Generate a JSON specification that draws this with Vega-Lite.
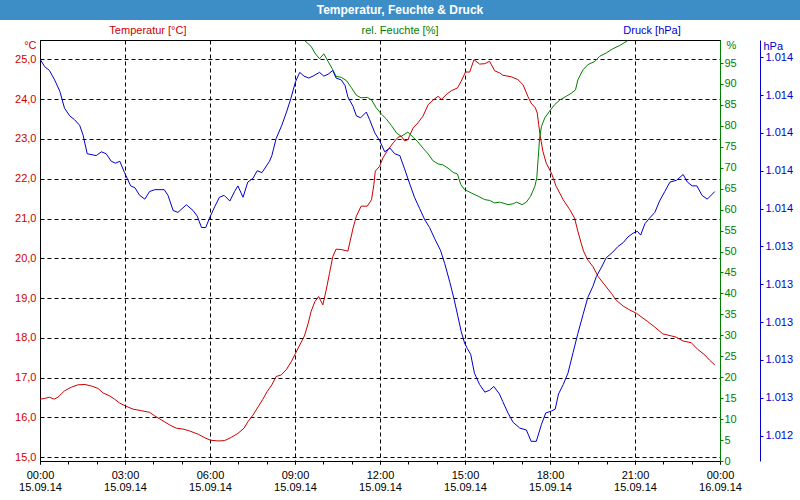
{
  "$schema": "https://vega.github.io/schema/vega-lite/v6.json",
  "padding": 0,
  "background": "white",
  "config": {"font": "Liberation Sans", "view": {"stroke": null}},
  "datasets": {
    "temp": [
      {"t":"2014-09-15T00:00","v":16.46},{"t":"2014-09-15T00:10","v":16.48},{"t":"2014-09-15T00:20","v":16.51},{"t":"2014-09-15T00:30","v":16.46},{"t":"2014-09-15T00:38","v":16.51},{"t":"2014-09-15T00:52","v":16.67},{"t":"2014-09-15T01:06","v":16.76},{"t":"2014-09-15T01:20","v":16.82},{"t":"2014-09-15T01:35","v":16.83},{"t":"2014-09-15T01:49","v":16.79},{"t":"2014-09-15T02:03","v":16.73},{"t":"2014-09-15T02:13","v":16.62},{"t":"2014-09-15T02:28","v":16.54},{"t":"2014-09-15T02:38","v":16.46},{"t":"2014-09-15T02:49","v":16.36},{"t":"2014-09-15T03:01","v":16.29},{"t":"2014-09-15T03:17","v":16.21},{"t":"2014-09-15T03:35","v":16.17},{"t":"2014-09-15T03:52","v":16.13},{"t":"2014-09-15T04:03","v":16.04},{"t":"2014-09-15T04:17","v":15.94},{"t":"2014-09-15T04:35","v":15.81},{"t":"2014-09-15T04:49","v":15.73},{"t":"2014-09-15T05:03","v":15.71},{"t":"2014-09-15T05:17","v":15.66},{"t":"2014-09-15T05:35","v":15.58},{"t":"2014-09-15T05:49","v":15.49},{"t":"2014-09-15T06:01","v":15.43},{"t":"2014-09-15T06:17","v":15.41},{"t":"2014-09-15T06:31","v":15.42},{"t":"2014-09-15T06:45","v":15.50},{"t":"2014-09-15T06:59","v":15.60},{"t":"2014-09-15T07:12","v":15.73},{"t":"2014-09-15T07:20","v":15.89},{"t":"2014-09-15T07:31","v":16.06},{"t":"2014-09-15T07:42","v":16.27},{"t":"2014-09-15T07:52","v":16.46},{"t":"2014-09-15T08:01","v":16.65},{"t":"2014-09-15T08:11","v":16.82},{"t":"2014-09-15T08:20","v":17.03},{"t":"2014-09-15T08:31","v":17.07},{"t":"2014-09-15T08:42","v":17.21},{"t":"2014-09-15T08:52","v":17.40},{"t":"2014-09-15T09:01","v":17.61},{"t":"2014-09-15T09:10","v":17.82},{"t":"2014-09-15T09:20","v":18.05},{"t":"2014-09-15T09:28","v":18.37},{"t":"2014-09-15T09:34","v":18.66},{"t":"2014-09-15T09:42","v":18.91},{"t":"2014-09-15T09:50","v":19.04},{"t":"2014-09-15T09:59","v":18.83},{"t":"2014-09-15T10:06","v":19.20},{"t":"2014-09-15T10:13","v":19.62},{"t":"2014-09-15T10:20","v":20.04},{"t":"2014-09-15T10:27","v":20.23},{"t":"2014-09-15T10:38","v":20.22},{"t":"2014-09-15T10:52","v":20.18},{"t":"2014-09-15T11:03","v":20.76},{"t":"2014-09-15T11:10","v":21.06},{"t":"2014-09-15T11:20","v":21.31},{"t":"2014-09-15T11:33","v":21.31},{"t":"2014-09-15T11:42","v":21.47},{"t":"2014-09-15T11:47","v":21.85},{"t":"2014-09-15T11:50","v":22.19},{"t":"2014-09-15T11:59","v":22.31},{"t":"2014-09-15T12:06","v":22.52},{"t":"2014-09-15T12:17","v":22.73},{"t":"2014-09-15T12:28","v":22.90},{"t":"2014-09-15T12:38","v":23.04},{"t":"2014-09-15T12:45","v":23.07},{"t":"2014-09-15T12:52","v":22.95},{"t":"2014-09-15T12:59","v":22.98},{"t":"2014-09-15T13:10","v":23.27},{"t":"2014-09-15T13:20","v":23.40},{"t":"2014-09-15T13:31","v":23.57},{"t":"2014-09-15T13:42","v":23.86},{"t":"2014-09-15T13:54","v":23.99},{"t":"2014-09-15T14:03","v":24.07},{"t":"2014-09-15T14:10","v":23.99},{"t":"2014-09-15T14:20","v":24.11},{"t":"2014-09-15T14:31","v":24.21},{"t":"2014-09-15T14:44","v":24.28},{"t":"2014-09-15T14:52","v":24.45},{"t":"2014-09-15T15:01","v":24.68},{"t":"2014-09-15T15:10","v":24.68},{"t":"2014-09-15T15:19","v":24.99},{"t":"2014-09-15T15:31","v":24.88},{"t":"2014-09-15T15:42","v":24.89},{"t":"2014-09-15T15:52","v":24.95},{"t":"2014-09-15T16:03","v":24.71},{"t":"2014-09-15T16:13","v":24.66},{"t":"2014-09-15T16:20","v":24.60},{"t":"2014-09-15T16:38","v":24.56},{"t":"2014-09-15T16:52","v":24.49},{"t":"2014-09-15T17:03","v":24.36},{"t":"2014-09-15T17:13","v":24.07},{"t":"2014-09-15T17:20","v":23.90},{"t":"2014-09-15T17:29","v":23.78},{"t":"2014-09-15T17:33","v":23.65},{"t":"2014-09-15T17:36","v":23.36},{"t":"2014-09-15T17:40","v":23.02},{"t":"2014-09-15T17:45","v":22.69},{"t":"2014-09-15T17:52","v":22.39},{"t":"2014-09-15T18:03","v":22.14},{"t":"2014-09-15T18:13","v":21.81},{"t":"2014-09-15T18:28","v":21.47},{"t":"2014-09-15T18:42","v":21.22},{"t":"2014-09-15T18:52","v":21.01},{"t":"2014-09-15T18:59","v":20.68},{"t":"2014-09-15T19:06","v":20.38},{"t":"2014-09-15T19:11","v":20.18},{"t":"2014-09-15T19:20","v":19.96},{"t":"2014-09-15T19:31","v":19.79},{"t":"2014-09-15T19:42","v":19.54},{"t":"2014-09-15T19:56","v":19.33},{"t":"2014-09-15T20:10","v":19.12},{"t":"2014-09-15T20:20","v":18.95},{"t":"2014-09-15T20:35","v":18.80},{"t":"2014-09-15T20:49","v":18.70},{"t":"2014-09-15T21:03","v":18.62},{"t":"2014-09-15T21:13","v":18.53},{"t":"2014-09-15T21:27","v":18.41},{"t":"2014-09-15T21:42","v":18.27},{"t":"2014-09-15T21:59","v":18.10},{"t":"2014-09-15T22:17","v":18.05},{"t":"2014-09-15T22:27","v":18.02},{"t":"2014-09-15T22:42","v":17.92},{"t":"2014-09-15T22:59","v":17.88},{"t":"2014-09-15T23:13","v":17.71},{"t":"2014-09-15T23:28","v":17.57},{"t":"2014-09-15T23:38","v":17.44},{"t":"2014-09-15T23:49","v":17.32}
    ],
    "hum": [
      {"t":"2014-09-15T09:21","v":100.3},{"t":"2014-09-15T09:34","v":99.0},{"t":"2014-09-15T09:42","v":97.4},{"t":"2014-09-15T09:52","v":96.0},{"t":"2014-09-15T10:01","v":97.2},{"t":"2014-09-15T10:10","v":95.4},{"t":"2014-09-15T10:20","v":93.4},{"t":"2014-09-15T10:27","v":91.8},{"t":"2014-09-15T10:38","v":91.6},{"t":"2014-09-15T10:49","v":90.8},{"t":"2014-09-15T10:59","v":89.2},{"t":"2014-09-15T11:10","v":87.3},{"t":"2014-09-15T11:20","v":86.7},{"t":"2014-09-15T11:33","v":86.8},{"t":"2014-09-15T11:42","v":86.2},{"t":"2014-09-15T11:52","v":84.3},{"t":"2014-09-15T12:03","v":82.8},{"t":"2014-09-15T12:13","v":81.7},{"t":"2014-09-15T12:24","v":80.1},{"t":"2014-09-15T12:35","v":78.3},{"t":"2014-09-15T12:45","v":77.5},{"t":"2014-09-15T12:59","v":78.5},{"t":"2014-09-15T13:10","v":77.3},{"t":"2014-09-15T13:20","v":76.2},{"t":"2014-09-15T13:31","v":74.7},{"t":"2014-09-15T13:42","v":73.3},{"t":"2014-09-15T13:52","v":71.7},{"t":"2014-09-15T14:03","v":70.9},{"t":"2014-09-15T14:13","v":70.7},{"t":"2014-09-15T14:24","v":69.9},{"t":"2014-09-15T14:35","v":68.9},{"t":"2014-09-15T14:44","v":68.5},{"t":"2014-09-15T14:51","v":66.0},{"t":"2014-09-15T14:59","v":64.8},{"t":"2014-09-15T15:13","v":64.0},{"t":"2014-09-15T15:28","v":63.2},{"t":"2014-09-15T15:42","v":62.4},{"t":"2014-09-15T15:52","v":62.2},{"t":"2014-09-15T16:03","v":61.6},{"t":"2014-09-15T16:13","v":61.8},{"t":"2014-09-15T16:20","v":61.6},{"t":"2014-09-15T16:31","v":61.2},{"t":"2014-09-15T16:42","v":61.4},{"t":"2014-09-15T16:49","v":61.8},{"t":"2014-09-15T17:01","v":61.2},{"t":"2014-09-15T17:10","v":61.8},{"t":"2014-09-15T17:19","v":63.2},{"t":"2014-09-15T17:28","v":65.6},{"t":"2014-09-15T17:32","v":67.6},{"t":"2014-09-15T17:35","v":72.3},{"t":"2014-09-15T17:38","v":77.1},{"t":"2014-09-15T17:42","v":79.9},{"t":"2014-09-15T17:49","v":81.9},{"t":"2014-09-15T17:59","v":83.5},{"t":"2014-09-15T18:10","v":85.1},{"t":"2014-09-15T18:21","v":86.2},{"t":"2014-09-15T18:35","v":87.1},{"t":"2014-09-15T18:45","v":87.8},{"t":"2014-09-15T18:54","v":88.6},{"t":"2014-09-15T18:59","v":91.0},{"t":"2014-09-15T19:10","v":93.4},{"t":"2014-09-15T19:20","v":94.6},{"t":"2014-09-15T19:35","v":95.4},{"t":"2014-09-15T19:45","v":96.6},{"t":"2014-09-15T19:59","v":97.4},{"t":"2014-09-15T20:13","v":98.4},{"t":"2014-09-15T20:28","v":99.2},{"t":"2014-09-15T20:44","v":100.3}
    ],
    "press": [
      {"t":"2014-09-15T00:00","v":1014.39},{"t":"2014-09-15T00:10","v":1014.35},{"t":"2014-09-15T00:20","v":1014.33},{"t":"2014-09-15T00:31","v":1014.28},{"t":"2014-09-15T00:42","v":1014.22},{"t":"2014-09-15T00:52","v":1014.13},{"t":"2014-09-15T01:03","v":1014.09},{"t":"2014-09-15T01:13","v":1014.07},{"t":"2014-09-15T01:24","v":1014.04},{"t":"2014-09-15T01:31","v":1013.99},{"t":"2014-09-15T01:40","v":1013.89},{"t":"2014-09-15T01:59","v":1013.88},{"t":"2014-09-15T02:10","v":1013.90},{"t":"2014-09-15T02:20","v":1013.89},{"t":"2014-09-15T02:31","v":1013.85},{"t":"2014-09-15T02:40","v":1013.84},{"t":"2014-09-15T02:49","v":1013.85},{"t":"2014-09-15T02:59","v":1013.79},{"t":"2014-09-15T03:12","v":1013.72},{"t":"2014-09-15T03:21","v":1013.71},{"t":"2014-09-15T03:31","v":1013.67},{"t":"2014-09-15T03:42","v":1013.65},{"t":"2014-09-15T03:52","v":1013.69},{"t":"2014-09-15T04:03","v":1013.70},{"t":"2014-09-15T04:10","v":1013.70},{"t":"2014-09-15T04:23","v":1013.70},{"t":"2014-09-15T04:31","v":1013.67},{"t":"2014-09-15T04:42","v":1013.59},{"t":"2014-09-15T04:52","v":1013.58},{"t":"2014-09-15T05:10","v":1013.62},{"t":"2014-09-15T05:24","v":1013.59},{"t":"2014-09-15T05:33","v":1013.56},{"t":"2014-09-15T05:42","v":1013.50},{"t":"2014-09-15T05:51","v":1013.50},{"t":"2014-09-15T05:59","v":1013.55},{"t":"2014-09-15T06:10","v":1013.61},{"t":"2014-09-15T06:20","v":1013.66},{"t":"2014-09-15T06:30","v":1013.67},{"t":"2014-09-15T06:42","v":1013.64},{"t":"2014-09-15T06:52","v":1013.69},{"t":"2014-09-15T06:59","v":1013.72},{"t":"2014-09-15T07:10","v":1013.66},{"t":"2014-09-15T07:20","v":1013.74},{"t":"2014-09-15T07:31","v":1013.76},{"t":"2014-09-15T07:40","v":1013.80},{"t":"2014-09-15T07:50","v":1013.79},{"t":"2014-09-15T08:06","v":1013.85},{"t":"2014-09-15T08:11","v":1013.88},{"t":"2014-09-15T08:20","v":1013.97},{"t":"2014-09-15T08:32","v":1014.04},{"t":"2014-09-15T08:42","v":1014.11},{"t":"2014-09-15T08:51","v":1014.18},{"t":"2014-09-15T09:01","v":1014.27},{"t":"2014-09-15T09:10","v":1014.32},{"t":"2014-09-15T09:19","v":1014.30},{"t":"2014-09-15T09:29","v":1014.29},{"t":"2014-09-15T09:38","v":1014.30},{"t":"2014-09-15T09:52","v":1014.32},{"t":"2014-09-15T10:01","v":1014.30},{"t":"2014-09-15T10:10","v":1014.31},{"t":"2014-09-15T10:20","v":1014.33},{"t":"2014-09-15T10:27","v":1014.29},{"t":"2014-09-15T10:38","v":1014.28},{"t":"2014-09-15T10:46","v":1014.25},{"t":"2014-09-15T10:52","v":1014.19},{"t":"2014-09-15T11:03","v":1014.14},{"t":"2014-09-15T11:10","v":1014.09},{"t":"2014-09-15T11:19","v":1014.08},{"t":"2014-09-15T11:31","v":1014.11},{"t":"2014-09-15T11:38","v":1014.07},{"t":"2014-09-15T11:49","v":1014.00},{"t":"2014-09-15T11:59","v":1013.96},{"t":"2014-09-15T12:10","v":1013.90},{"t":"2014-09-15T12:21","v":1013.92},{"t":"2014-09-15T12:31","v":1013.89},{"t":"2014-09-15T12:42","v":1013.88},{"t":"2014-09-15T12:52","v":1013.81},{"t":"2014-09-15T13:03","v":1013.73},{"t":"2014-09-15T13:13","v":1013.66},{"t":"2014-09-15T13:24","v":1013.60},{"t":"2014-09-15T13:35","v":1013.54},{"t":"2014-09-15T13:45","v":1013.50},{"t":"2014-09-15T13:56","v":1013.44},{"t":"2014-09-15T14:08","v":1013.38},{"t":"2014-09-15T14:17","v":1013.31},{"t":"2014-09-15T14:28","v":1013.21},{"t":"2014-09-15T14:37","v":1013.12},{"t":"2014-09-15T14:45","v":1013.03},{"t":"2014-09-15T14:52","v":1012.95},{"t":"2014-09-15T14:59","v":1012.89},{"t":"2014-09-15T15:05","v":1012.86},{"t":"2014-09-15T15:12","v":1012.83},{"t":"2014-09-15T15:20","v":1012.73},{"t":"2014-09-15T15:31","v":1012.67},{"t":"2014-09-15T15:42","v":1012.63},{"t":"2014-09-15T15:52","v":1012.64},{"t":"2014-09-15T16:01","v":1012.66},{"t":"2014-09-15T16:13","v":1012.62},{"t":"2014-09-15T16:20","v":1012.58},{"t":"2014-09-15T16:31","v":1012.52},{"t":"2014-09-15T16:42","v":1012.47},{"t":"2014-09-15T16:56","v":1012.44},{"t":"2014-09-15T17:10","v":1012.43},{"t":"2014-09-15T17:20","v":1012.37},{"t":"2014-09-15T17:31","v":1012.37},{"t":"2014-09-15T17:42","v":1012.46},{"t":"2014-09-15T17:51","v":1012.52},{"t":"2014-09-15T18:03","v":1012.53},{"t":"2014-09-15T18:11","v":1012.54},{"t":"2014-09-15T18:18","v":1012.62},{"t":"2014-09-15T18:28","v":1012.67},{"t":"2014-09-15T18:38","v":1012.73},{"t":"2014-09-15T18:49","v":1012.84},{"t":"2014-09-15T18:59","v":1012.94},{"t":"2014-09-15T19:10","v":1013.04},{"t":"2014-09-15T19:20","v":1013.13},{"t":"2014-09-15T19:31","v":1013.19},{"t":"2014-09-15T19:38","v":1013.24},{"t":"2014-09-15T19:49","v":1013.29},{"t":"2014-09-15T19:59","v":1013.34},{"t":"2014-09-15T20:13","v":1013.37},{"t":"2014-09-15T20:24","v":1013.40},{"t":"2014-09-15T20:35","v":1013.42},{"t":"2014-09-15T20:45","v":1013.45},{"t":"2014-09-15T20:56","v":1013.47},{"t":"2014-09-15T21:05","v":1013.48},{"t":"2014-09-15T21:12","v":1013.46},{"t":"2014-09-15T21:21","v":1013.52},{"t":"2014-09-15T21:31","v":1013.55},{"t":"2014-09-15T21:42","v":1013.58},{"t":"2014-09-15T21:52","v":1013.64},{"t":"2014-09-15T22:03","v":1013.69},{"t":"2014-09-15T22:14","v":1013.74},{"t":"2014-09-15T22:28","v":1013.75},{"t":"2014-09-15T22:42","v":1013.78},{"t":"2014-09-15T22:51","v":1013.74},{"t":"2014-09-15T23:01","v":1013.72},{"t":"2014-09-15T23:11","v":1013.72},{"t":"2014-09-15T23:22","v":1013.67},{"t":"2014-09-15T23:33","v":1013.65},{"t":"2014-09-15T23:49","v":1013.69}
    ],
    "series": [{"s": "Temperatur [°C]"}, {"s": "rel. Feuchte [%]"}, {"s": "Druck [hPa]"}],
    "headline": [{"label": "Temperatur, Feuchte & Druck"}]
  },
  "spacing": 20,
  "bounds": "flush",
  "vconcat": [
    {
      "width": 800,
      "height": 20,
      "view": {"fill": "#3d8ec7", "stroke": null},
      "data": {"name": "headline"},
      "mark": {"type": "text", "color": "white", "fontWeight": "bold", "fontSize": 12},
      "encoding": {"text": {"field": "label"}}
    },
    {
      "spacing": 39,
      "bounds": "flush",
      "hconcat": [
        {
          "width": 1,
          "height": 421,
          "view": {"stroke": null},
          "data": {"values": [{"a": 1}]},
          "mark": {"type": "point", "opacity": 0, "size": 0, "strokeWidth": 0, "filled": true},
          "encoding": {}
        },
        {
          "width": 680,
          "height": 421,
          "view": {"stroke": "black", "strokeWidth": 1, "fill": "white"},
          "resolve": {"scale": {"x": "independent", "y": "independent", "color": "independent"}},
          "layer": [
            {
              "data": {"name": "temp"},
              "mark": {"type": "line", "color": "#cc0000", "strokeWidth": 1, "clip": true},
              "encoding": {
                "x": {
                  "field": "t", "type": "temporal",
                  "scale": {"domain": [{"year": 2014, "month": 9, "date": 15, "hours": 0}, {"year": 2014, "month": 9, "date": 16, "hours": 0}], "nice": false},
                  "axis": {
                    "orient": "bottom",
                    "tickCount": 8,
                    "grid": true,
                    "gridColor": "black",
                    "gridDash": [4, 3],
                    "domainColor": "black",
                    "tickColor": "black",
                    "tickSize": 3,
                    "format": "%H:%M",
                    "formatType": "time",
                    "labelColor": "black",
                    "labelFontSize": 11,
                    "labelPadding": 5,
                    "labelOverlap": false,
                    "labelFlush": false,
                    "labelAngle": 0,
                    "title": null
                  }
                },
                "y": {
                  "field": "v", "type": "quantitative",
                  "scale": {"domain": [14.907, 25.485], "nice": false, "zero": false},
                  "axis": {
                    "orient": "left",
                    "values": [15, 16, 17, 18, 19, 20, 21, 22, 23, 24, 25],
                    "grid": true,
                    "gridColor": "black",
                    "gridDash": [4, 3],
                    "domainColor": "black",
                    "ticks": false,
                    "labelExpr": "replace(format(datum.value, '.1f'), '.', ',')",
                    "labelColor": "#cc0000",
                    "labelFontSize": 11,
                    "labelPadding": 4,
                    "title": "°C",
                    "titleAngle": 0,
                    "titleX": -4,
                    "titleY": 5,
                    "titleAlign": "right",
                    "titleBaseline": "middle",
                    "titleColor": "#cc0000",
                    "titleFontSize": 11,
                    "titleFontWeight": "normal"
                  }
                }
              }
            },
            {
              "data": {"name": "hum"},
              "mark": {"type": "line", "color": "#008000", "strokeWidth": 1, "clip": true},
              "encoding": {
                "x": {
                  "field": "t", "type": "temporal",
                  "scale": {"domain": [{"year": 2014, "month": 9, "date": 15, "hours": 0}, {"year": 2014, "month": 9, "date": 16, "hours": 0}], "nice": false},
                  "axis": {
                    "orient": "bottom",
                    "tickCount": 24,
                    "grid": false,
                    "domain": false,
                    "labels": false,
                    "tickColor": "black",
                    "tickSize": 3,
                    "title": null
                  }
                },
                "y": {
                  "field": "v", "type": "quantitative",
                  "scale": {"domain": [0, 100.5], "nice": false, "zero": false},
                  "axis": {
                    "orient": "right",
                    "values": [0, 5, 10, 15, 20, 25, 30, 35, 40, 45, 50, 55, 60, 65, 70, 75, 80, 85, 90, 95],
                    "grid": false,
                    "domainColor": "#008000",
                    "tickColor": "#008000",
                    "tickSize": 3,
                    "labelColor": "#008000",
                    "labelFontSize": 11,
                    "labelPadding": 1,
                    "title": "%",
                    "titleAngle": 0,
                    "titleX": 6,
                    "titleY": 5,
                    "titleAlign": "left",
                    "titleBaseline": "middle",
                    "titleColor": "#008000",
                    "titleFontSize": 11,
                    "titleFontWeight": "normal"
                  }
                }
              }
            },
            {
              "data": {"name": "press"},
              "mark": {"type": "line", "color": "#0000cc", "strokeWidth": 1, "clip": true},
              "encoding": {
                "x": {
                  "field": "t", "type": "temporal",
                  "scale": {"domain": [{"year": 2014, "month": 9, "date": 15, "hours": 0}, {"year": 2014, "month": 9, "date": 16, "hours": 0}], "nice": false},
                  "axis": {
                    "orient": "bottom",
                    "tickCount": 8,
                    "grid": false,
                    "domain": false,
                    "ticks": false,
                    "tickSize": 0,
                    "format": "%d.%m.%y",
                    "formatType": "time",
                    "labelColor": "black",
                    "labelFontSize": 11,
                    "labelPadding": 20,
                    "labelOverlap": false,
                    "labelFlush": false,
                    "labelAngle": 0,
                    "title": null
                  }
                },
                "y": {
                  "field": "v", "type": "quantitative",
                  "scale": {"domain": [1012.266, 1014.491], "nice": false, "zero": false},
                  "axis": {
                    "orient": "right",
                    "offset": 40,
                    "values": [1012.4, 1012.6, 1012.8, 1013.0, 1013.2, 1013.4, 1013.6, 1013.8, 1014.0, 1014.2, 1014.4],
                    "grid": false,
                    "domainColor": "#0000cc",
                    "tickColor": "#0000cc",
                    "tickSize": 3,
                    "labelExpr": "replace(format(datum.value, ',.0f'), ',', '.')",
                    "labelColor": "#0000cc",
                    "labelFontSize": 11,
                    "labelPadding": 2,
                    "title": "hPa",
                    "titleAngle": 0,
                    "titleX": 3,
                    "titleY": 6,
                    "titleAlign": "left",
                    "titleBaseline": "middle",
                    "titleColor": "#0000cc",
                    "titleFontSize": 11,
                    "titleFontWeight": "normal"
                  }
                }
              }
            },
            {
              "data": {"name": "series"},
              "mark": {"type": "text", "baseline": "bottom", "fontSize": 11, "dy": -4},
              "encoding": {
                "x": {
                  "field": "s", "type": "nominal", "sort": null,
                  "scale": {"type": "point", "padding": 0.349, "align": 0.6136},
                  "axis": null
                },
                "y": {"datum": 1, "type": "quantitative", "scale": {"domain": [0, 1]}, "axis": null},
                "text": {"field": "s"},
                "color": {
                  "field": "s", "type": "nominal",
                  "scale": {"domain": ["Temperatur [°C]", "rel. Feuchte [%]", "Druck [hPa]"], "range": ["#cc0000", "#008000", "#0000cc"]},
                  "legend": null
                }
              }
            }
          ]
        }
      ]
    }
  ]
}
